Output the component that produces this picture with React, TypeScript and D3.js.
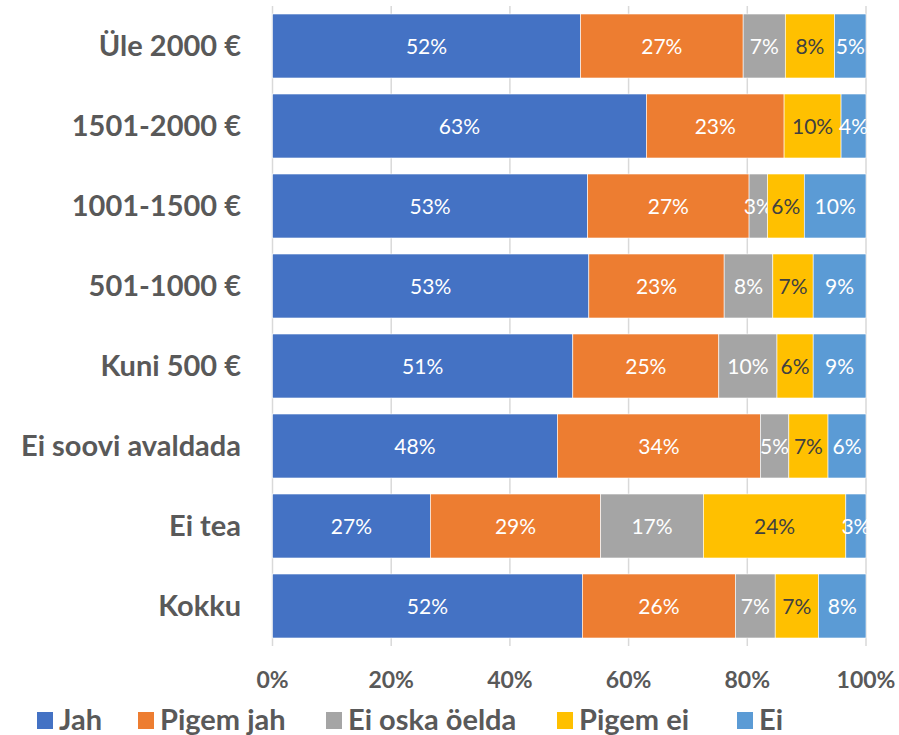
import React from "react";
import * as d3 from "d3";

const categories = [
  "Üle 2000 €",
  "1501-2000 €",
  "1001-1500 €",
  "501-1000 €",
  "Kuni 500 €",
  "Ei soovi avaldada",
  "Ei tea",
  "Kokku",
];
const seriesNames = ["Jah", "Pigem jah", "Ei oska öelda", "Pigem ei", "Ei"];
const jah = [51.9, 63.0, 53.1, 53.3, 50.6, 48.0, 26.6, 52.2];
const pigemJah = [27.4, 23.2, 27.2, 22.8, 24.6, 34.2, 28.7, 25.8];
const eiOska = [7.1, 0, 3.1, 8.2, 9.8, 4.8, 17.3, 6.7];
const pigemEi = [8.3, 9.6, 6.2, 6.8, 6.1, 6.6, 24.0, 7.3];
const ei = [5.3, 4.2, 10.4, 8.9, 8.9, 6.4, 3.4, 8.0];
const tickValues = [0, 20, 40, 60, 80, 100];

const colors = ["#4472C4", "#ED7D31", "#A5A5A5", "#FFC000", "#5B9BD5"];
const labelColors = ["#ffffff", "#ffffff", "#ffffff", "#404040", "#ffffff"];

export default function App() {
  const W = 899;
  const H = 735;
  const left = 272.5;
  const right = 866;
  const top = 6;
  const bottom = 646;

  const rows = categories.map((c, i) => ({
    cat: c,
    Jah: jah[i],
    "Pigem jah": pigemJah[i],
    "Ei oska öelda": eiOska[i],
    "Pigem ei": pigemEi[i],
    Ei: ei[i],
  }));
  const stacked = d3.stack<any>().keys(seriesNames)(rows);

  const x = d3.scaleLinear().domain([0, 100]).range([left, right]);
  const y = d3
    .scaleBand()
    .domain(categories)
    .range([top, bottom])
    .paddingInner(0.2)
    .paddingOuter(0.1);

  const font = "Lato, 'Open Sans', sans-serif";
  const grey = "#595959";

  const legendItems = [
    { name: "Jah", x: 37 },
    { name: "Pigem jah", x: 138 },
    { name: "Ei oska öelda", x: 326 },
    { name: "Pigem ei", x: 557 },
    { name: "Ei", x: 737 },
  ];

  return (
    <svg
      width={W}
      height={H}
      style={{ position: "absolute", left: 0, top: 0, background: "#fff" }}
      fontFamily={font}
    >
      {tickValues.map((t) => (
        <line
          key={"g" + t}
          x1={x(t)}
          x2={x(t)}
          y1={top}
          y2={bottom}
          stroke="#d9d9d9"
          strokeWidth={1.5}
        />
      ))}
      {stacked.map((s, si) => (
        <g key={s.key}>
          {s.map((d, i) => {
            const w = x(d[1]) - x(d[0]);
            if (w <= 0) return null;
            const yy = y(categories[i])!;
            const bh = y.bandwidth();
            const v = d[1] - d[0];
            return (
              <g key={i}>
                <rect
                  x={x(d[0])}
                  y={yy}
                  width={w}
                  height={bh}
                  fill={colors[si]}
                  stroke="#ffffff"
                  strokeWidth={0.6}
                />
                <text
                  x={(x(d[0]) + x(d[1])) / 2}
                  y={yy + bh / 2 + 7.5}
                  textAnchor="middle"
                  fontSize={21}
                  fill={labelColors[si]}
                >
                  {Math.round(v) + "%"}
                </text>
              </g>
            );
          })}
        </g>
      ))}
      {categories.map((c) => (
        <text
          key={c}
          x={241}
          y={y(c)! + y.bandwidth() / 2 + 10}
          textAnchor="end"
          fontSize={29}
          fontWeight="bold"
          fill={grey}
        >
          {c}
        </text>
      ))}
      {tickValues.map((t) => (
        <text
          key={"t" + t}
          x={x(t)}
          y={688}
          textAnchor="middle"
          fontSize={23}
          fontWeight="bold"
          fill={grey}
        >
          {t + "%"}
        </text>
      ))}
      {legendItems.map((l, i) => (
        <g key={l.name}>
          <rect x={l.x} y={712} width={16} height={17} fill={colors[i]} />
          <text
            x={l.x + 22}
            y={730}
            fontSize={29}
            fontWeight="bold"
            fill={grey}
          >
            {l.name}
          </text>
        </g>
      ))}
    </svg>
  );
}
